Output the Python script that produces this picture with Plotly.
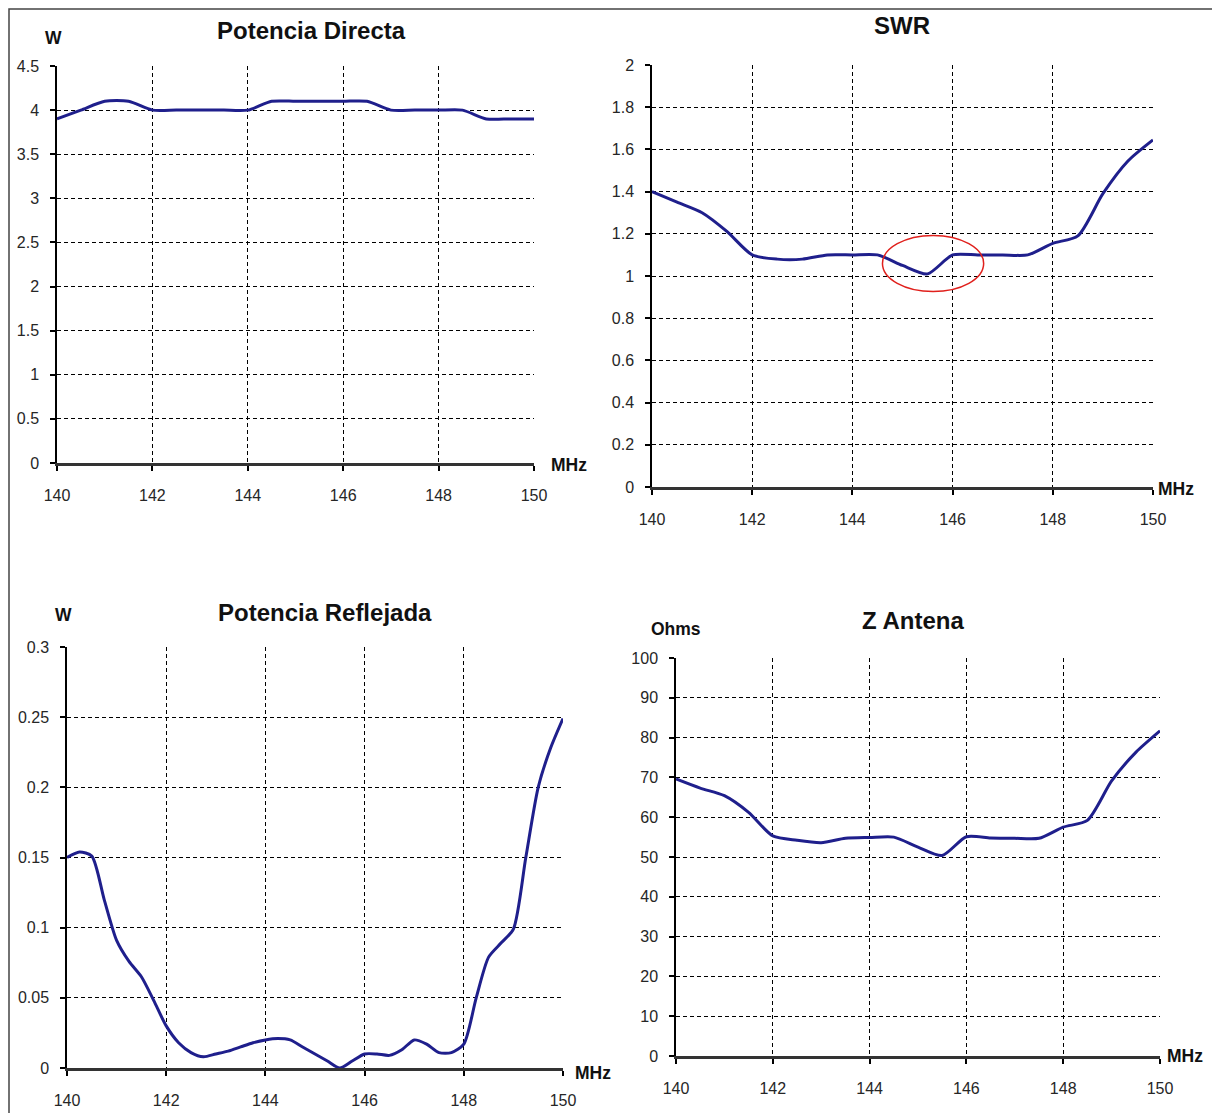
import plotly.graph_objects as go

# ---------------- data ----------------
freq = [140, 140.5, 141, 141.5, 142, 142.5, 143, 143.5, 144, 144.5, 145,
        145.5, 146, 146.5, 147, 147.5, 148, 148.5, 149, 149.5, 150]

pot_directa = [3.9, 4.0, 4.1, 4.1, 4.0, 4.0, 4.0, 4.0, 4.0, 4.1, 4.1,
               4.1, 4.1, 4.1, 4.0, 4.0, 4.0, 4.0, 3.9, 3.9, 3.9]

swr = [1.40, 1.35, 1.30, 1.21, 1.10, 1.08, 1.08, 1.10, 1.10, 1.10, 1.05,
       1.01, 1.10, 1.10, 1.10, 1.10, 1.155, 1.19, 1.39, 1.545, 1.645]

z_antena = [69.6, 67.3, 65.4, 61.2, 55.3, 54.2, 53.6, 54.7, 54.9, 55.0, 52.5,
            50.4, 55.1, 54.8, 54.7, 54.7, 57.5, 59.2, 69.1, 76.3, 81.7]

freq_fine = [140, 140.25, 140.5, 140.75, 141, 141.25, 141.5, 141.75, 142,
             142.25, 142.5, 142.75, 143, 143.25, 143.5, 143.75, 144, 144.25,
             144.5, 144.75, 145, 145.25, 145.5, 145.75, 146, 146.25, 146.5,
             146.75, 147, 147.25, 147.5, 147.75, 148, 148.25, 148.5, 148.75,
             149, 149.25, 149.5, 149.75, 150]

pot_reflejada = [0.150, 0.154, 0.151, 0.120, 0.091, 0.076, 0.065, 0.048, 0.030,
                 0.018, 0.011, 0.008, 0.010, 0.012, 0.015, 0.018, 0.020, 0.021,
                 0.020, 0.015, 0.010, 0.005, 0.000, 0.005, 0.010, 0.010, 0.009,
                 0.013, 0.020, 0.017, 0.011, 0.011, 0.017, 0.050, 0.079, 0.089,
                 0.099, 0.150, 0.200, 0.228, 0.249]

x_ticks = [140, 142, 144, 146, 148, 150]
y1_ticks = [0, 0.5, 1, 1.5, 2, 2.5, 3, 3.5, 4, 4.5]
y2_ticks = [0, 0.2, 0.4, 0.6, 0.8, 1, 1.2, 1.4, 1.6, 1.8, 2]
y3_ticks = [0, 0.05, 0.1, 0.15, 0.2, 0.25, 0.3]
y4_ticks = [0, 10, 20, 30, 40, 50, 60, 70, 80, 90, 100]

titles = ["Potencia Directa", "SWR", "Potencia Reflejada", "Z Antena"]

# ---------------- layout helpers ----------------
W, H = 1220, 1113
OFF = 8  # page body margin
def px(x):
    return (x - OFF) / W
def py(y):
    return 1 - (y - OFF) / H

LINE = "#1f1f8c"
FONT_T = "Liberation Sans, Arial, sans-serif"
tickfont = dict(family=FONT_T, size=16, color="#262626")

# plot-area boxes in pixels: (left, right, top, bottom)
boxes = [(57, 534, 66, 463), (652, 1153, 65, 487),
         (67, 563, 647, 1068), (676, 1160, 658, 1056)]

fig = go.Figure()
series = [(freq, pot_directa), (freq, swr), (freq_fine, pot_reflejada), (freq, z_antena)]
for i, (xs, ys) in enumerate(series):
    sfx = "" if i == 0 else str(i + 1)
    fig.add_trace(go.Scatter(x=xs, y=ys, mode="lines",
                             line=dict(color=LINE, width=3, shape="spline", smoothing=0.7),
                             xaxis="x" + sfx, yaxis="y" + sfx, showlegend=False,
                             hoverinfo="x+y"))

yticks = [y1_ticks, y2_ticks, y3_ticks, y4_ticks]
yranges = [[0, 4.5], [0, 2], [0, 0.3], [0, 100]]
axis_common = dict(showline=True,
                   ticks="outside", ticklen=5, tickcolor="black", tickwidth=1.5,
                   showgrid=True, gridcolor="black", gridwidth=1.2, griddash="4px,3px",
                   zeroline=False, tickfont=tickfont, fixedrange=True, automargin=False)
lay = {}
for i, (l, r, t, b) in enumerate(boxes):
    sfx = "" if i == 0 else str(i + 1)
    lay["xaxis" + sfx] = dict(domain=[px(l), px(r)], range=[140, 150],
                              tickvals=x_ticks, anchor="y" + sfx,
                              linecolor="#333333", linewidth=2.5,
                              ticklabelstandoff=11, **axis_common)
    lay["yaxis" + sfx] = dict(domain=[py(b), py(t)], range=yranges[i],
                              tickvals=yticks[i], ticktext=[f"{v:g}" for v in yticks[i]],
                              linecolor="black", linewidth=1.5,
                              anchor="x" + sfx, ticklabelstandoff=8, **axis_common)
fig.update_layout(**lay)

# titles & unit labels
tfont = dict(family=FONT_T, size=24, color="#111111")
ufont = dict(family=FONT_T, size=17.5, color="#111111")
ann = []
title_pos = [(311, 30), (902, 25), (325, 612), (913, 620)]
for (x, y), txt in zip(title_pos, titles):
    ann.append(dict(x=px(x), y=py(y), xref="paper", yref="paper", text=f"<b>{txt}</b>",
                    showarrow=False, font=tfont, xanchor="center", yanchor="middle"))
units = [("W", 53, 38), ("W", 63, 615), ("Ohms", 676, 629),
         ("MHz", 569, 465), ("MHz", 1176, 489), ("MHz", 593, 1073), ("MHz", 1185, 1056)]
for txt, x, y in units:
    ann.append(dict(x=px(x), y=py(y), xref="paper", yref="paper", text=f"<b>{txt}</b>",
                    showarrow=False, font=ufont, xanchor="center", yanchor="middle"))

shapes = [
    dict(type="rect", xref="paper", yref="paper", x0=px(9), x1=px(1213), y0=py(1125), y1=py(9),
         line=dict(color="#444444", width=1.5), fillcolor="rgba(0,0,0,0)"),
    dict(type="circle", xref="x2", yref="y2", x0=144.6, x1=146.62, y0=0.926, y1=1.192,
         line=dict(color="#e0201c", width=1.5)),
]

fig.update_layout(width=W, height=H, margin=dict(l=0, r=0, t=0, b=0, pad=0),
                  paper_bgcolor="white", plot_bgcolor="white",
                  annotations=ann, shapes=shapes, showlegend=False)

fig.write_html("out.html")
